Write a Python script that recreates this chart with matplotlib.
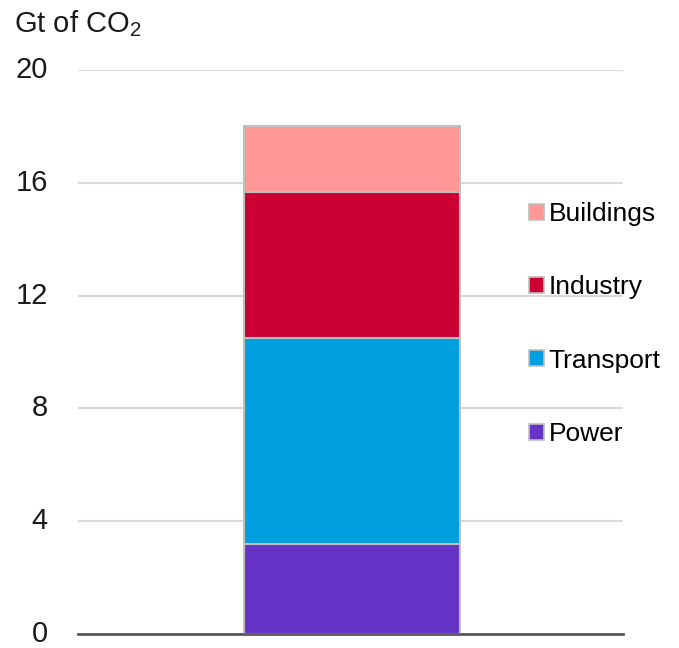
import matplotlib.pyplot as plt
from matplotlib.patches import Patch
import matplotlib.transforms as mtransforms

plt.rcParams['font.family'] = ['Liberation Sans', 'DejaVu Sans']
plt.rcParams['mathtext.default'] = 'regular'

# --- Data ---
sectors = ["Power", "Transport", "Industry", "Buildings"]
values = [3.2, 7.3, 5.17, 2.35]
colors = ["#6633C6", "#009FDF", "#CC0033", "#FF9797"]
yticks = [0, 4, 8, 12, 16, 20]

fig = plt.figure(figsize=(6.79, 6.48), dpi=100)
ax = fig.add_axes([78 / 679, 1 - 634 / 648, 545 / 679, 564 / 648])

bottom = 0
for name, val, col in zip(sectors, values, colors):
    ax.bar(0.003, val, width=0.396, bottom=bottom, color=col,
           edgecolor="#BFBFBF", linewidth=1.5, zorder=3)
    bottom += val

ax.set_xlim(-0.5, 0.5)
ax.set_ylim(0, 20)
ax.set_xticks([])
ax.set_yticks(yticks)
ax.set_yticklabels([])
ax.tick_params(axis="y", length=0)
ax.grid(axis="y", color="#D9D9D9", linewidth=1.5, zorder=0)
for s in ["left", "right", "top"]:
    ax.spines[s].set_visible(False)
ax.spines["bottom"].set_color("#595959")
ax.spines["bottom"].set_linewidth(2)
ax.spines["bottom"].set_zorder(4)

trans = mtransforms.blended_transform_factory(ax.transAxes, ax.transData)
for t in yticks:
    ax.text(-30 / 545, t, str(t), transform=trans, ha="right", va="center",
            fontsize=21, color="#1a1a1a")

fig.text(14 / 679, 1 - 24 / 648, "Gt of CO$_2$", ha="left", va="center",
         fontsize=21, color="#1a1a1a")

handles = [Patch(facecolor=c, edgecolor="#BFBFBF", linewidth=1.2, label=n)
           for n, c in zip(sectors, colors)][::-1]
fig.legend(handles=handles, loc="center left",
           bbox_to_anchor=(529 / 679, 1 - 324 / 648), frameon=False,
           fontsize=19, handlelength=0.55, handleheight=0.55,
           handletextpad=0.2, labelspacing=1.87, borderpad=0, borderaxespad=0)

fig.savefig("out.png", dpi=100)
